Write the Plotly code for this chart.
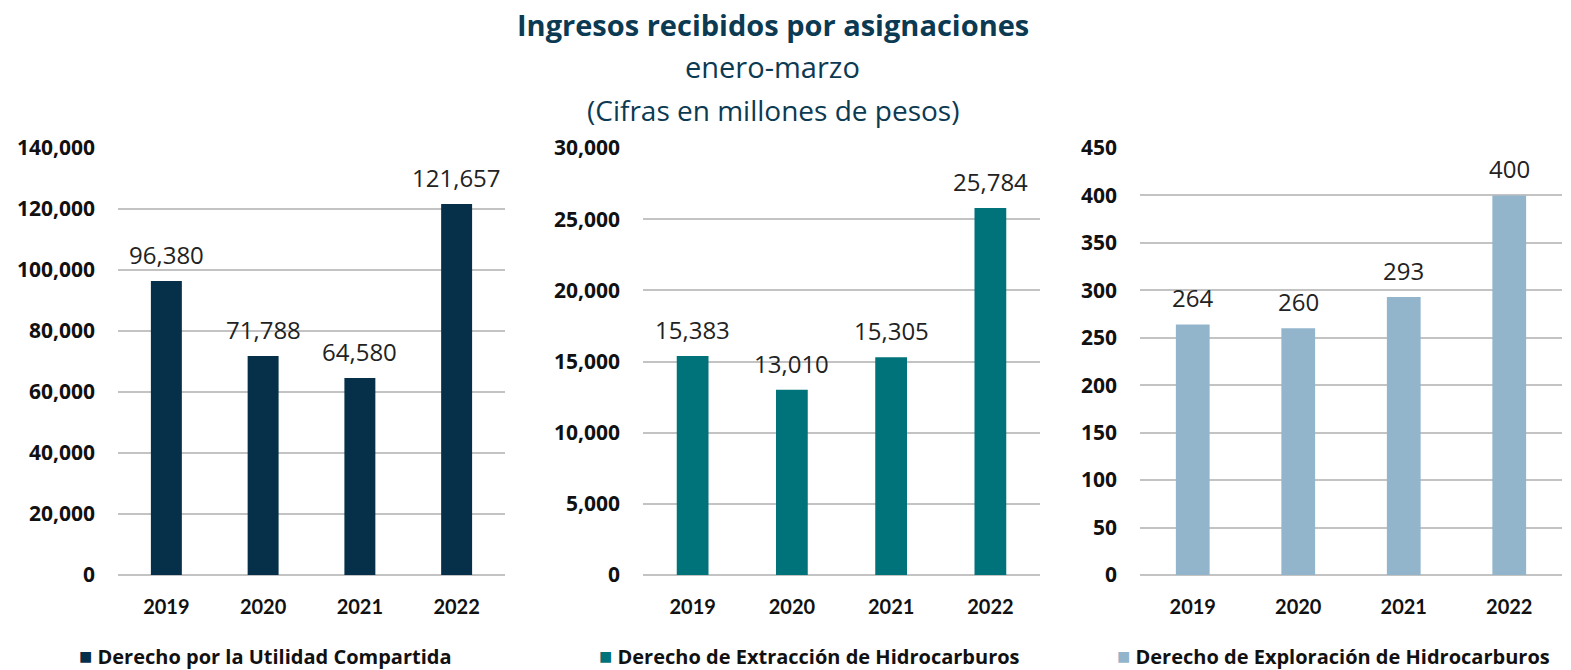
import plotly.graph_objects as go

years = ["2019", "2020", "2021", "2022"]
utilidad = [96380, 71788, 64580, 121657]
extraccion = [15383, 13010, 15305, 25784]
exploracion = [264, 260, 293, 400]

names = ["Derecho por la Utilidad Compartida",
         "Derecho de Extracción de Hidrocarburos",
         "Derecho de Exploración de Hidrocarburos"]
colors = ["#06304a", "#00737a", "#93b5cc"]
series = [utilidad, extraccion, exploracion]
yranges = [[0, 140000], [0, 30000], [0, 450]]
dticks = [20000, 5000, 50]
xdomains = [[118/1571, 505/1571], [643/1571, 1040/1571], [1140/1571, 1562/1571]]
ydomain = [1 - 575/670, 1 - 148/670]
legend_x = [77/1571, 597/1571, 1115/1571]

WIDE = "Open Sans"
fig = go.Figure()
for i in range(3):
    sfx = "" if i == 0 else str(i + 1)
    fig.add_trace(go.Bar(
        x=years, y=series[i], name=names[i],
        marker=dict(color=colors[i], line=dict(width=0)),
        showlegend=False, hoverinfo="x+y",
        xaxis="x" + sfx, yaxis="y" + sfx,
    ))
    # value labels: x is the category's serial index on the category axis
    for j, v in enumerate(series[i]):
        fig.add_annotation(
            x=j, y=v, xref="x" + sfx, yref="y" + sfx,
            text=f"{v:,}", showarrow=False, yanchor="bottom", yshift=8,
            font=dict(family=WIDE, size=24, color="#222222"),
        )
    fig.update_layout(**{
        "xaxis" + sfx: dict(domain=xdomains[i], anchor="y" + sfx, type="category",
                           range=[-0.5, len(years) - 0.5],
                           showgrid=False, showline=False, ticks="", ticklabelstandoff=18,
                           tickfont=dict(family="Lato", size=20, color="#111111", weight="bold")),
        "yaxis" + sfx: dict(domain=ydomain, anchor="x" + sfx, range=yranges[i],
                           dtick=dticks[i], tickformat=",", showgrid=True,
                           gridcolor="#c3c3c3", gridwidth=2, zeroline=True,
                           zerolinecolor="#c3c3c3", zerolinewidth=2, showline=False,
                           ticks="", ticklabelstandoff=22,
                           tickfont=dict(family=WIDE, size=21, color="#111111", weight="bold")),
    })
    fig.add_annotation(
        xref="paper", yref="paper", x=legend_x[i], y=1 - 655/670,
        xanchor="left", yanchor="middle", showarrow=False,
        text=f"<span style='color:{colors[i]};font-size:22px'>■</span> {names[i]}",
        font=dict(family=WIDE, size=20, color="#111111", weight="bold"),
    )

title_color = "#0b3a52"
fig.add_annotation(xref="paper", yref="paper", x=0.492, y=1 - 25/670, showarrow=False,
                   text="<b>Ingresos recibidos por asignaciones</b>",
                   font=dict(family=WIDE, size=29, color=title_color), yanchor="middle")
fig.add_annotation(xref="paper", yref="paper", x=0.492, y=1 - 67/670, showarrow=False,
                   text="enero-marzo",
                   font=dict(family=WIDE, size=29, color=title_color), yanchor="middle")
fig.add_annotation(xref="paper", yref="paper", x=0.492, y=1 - 110/670, showarrow=False,
                   text="(Cifras en millones de pesos)",
                   font=dict(family=WIDE, size=28, color=title_color), yanchor="middle")

fig.update_layout(
    width=1571, height=670,
    margin=dict(l=0, r=0, t=0, b=0, autoexpand=False),
    plot_bgcolor="white", paper_bgcolor="white",
    bargap=0.68, showlegend=False,
    font=dict(family=WIDE),
)
fig.write_html("out.html", config={"displayModeBar": False},
               post_script="document.body.style.margin='0';")
